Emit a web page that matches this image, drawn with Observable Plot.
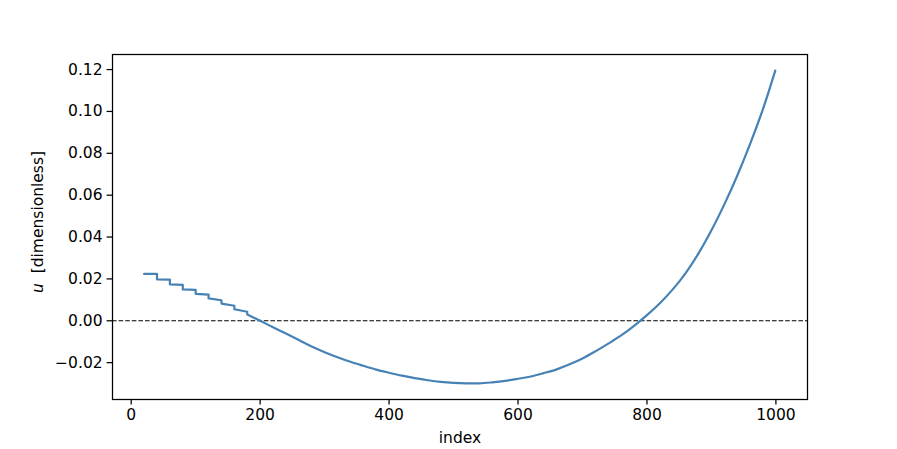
<!DOCTYPE html>
<html>
<head>
<meta charset="utf-8">
<script src="https://cdn.jsdelivr.net/npm/d3@7"></script>
<script src="https://cdn.jsdelivr.net/npm/@observablehq/plot@0.6"></script>
<style>
  html, body { margin: 0; padding: 0; background: white; }
  #chart svg { display: block; }
</style>
</head>
<body>
<div id="chart"></div>
<script>
// step part near the start (duplicated x = step edges)
const stepIndex = [20, 40, 40, 60, 60, 80, 80, 100, 100, 120, 120, 140, 140, 160, 160, 180, 180, 200];
const stepU = [
  0.0224, 0.0224, 0.0198, 0.0197, 0.0174, 0.0172, 0.0150, 0.0148, 0.0129, 0.0125,
  0.0107, 0.0098, 0.0082, 0.0072, 0.0055, 0.0043, 0.0030, 0.0000
];
// smooth part
const curveIndex = [
  200, 220, 240, 260, 280, 300, 320, 340, 360, 380, 400, 420, 440, 460, 480, 500, 520, 540,
  560, 580, 600, 620, 640, 660, 680, 700, 720, 740, 760, 780, 800, 820, 840, 860, 880,
  900, 920, 940, 960, 980, 999
];
const curveU = [
  0.0000, -0.0031, -0.0061, -0.0092, -0.0123, -0.0150, -0.0174, -0.0196, -0.0215, -0.0233,
  -0.0248, -0.0262, -0.0274, -0.0284, -0.0292, -0.0297, -0.0299, -0.0299,
  -0.0294, -0.0287, -0.0277, -0.0266, -0.0250, -0.0232, -0.0208, -0.0180, -0.0146,
  -0.0109, -0.0070, -0.0024, 0.0027, 0.0084, 0.0150, 0.0228, 0.0322,
  0.0432, 0.0556, 0.0693, 0.0845, 0.1012, 0.1195
];
const xTicks = [0, 200, 400, 600, 800, 1000];
const yTicks = [-0.02, 0.00, 0.02, 0.04, 0.06, 0.08, 0.10, 0.12];
const xLabel = "index";
const yLabelVar = "u";
const yLabelRest = "  [dimensionless]";

const stepData = stepIndex.map((x, i) => ({x, y: stepU[i]}));
const curveData = curveIndex.map((x, i) => ({x, y: curveU[i]}));
const fmt = d3.format(".2f");
const FS = 15.5;

const chart = Plot.plot({
  width: 897,
  height: 449,
  marginLeft: 112,
  marginRight: 90,
  marginTop: 54,
  marginBottom: 50,
  x: {domain: [-29, 1049]},
  y: {domain: [-0.0376, 0.1272]},
  style: {fontFamily: "DejaVu Sans", fontSize: FS + "px", background: "white", color: "black"},
  marks: [
    Plot.ruleY([0], {stroke: "black", strokeWidth: 1.1, strokeDasharray: "4.6,2"}),
    Plot.line(stepData, {x: "x", y: "y", stroke: "#4682b4", strokeWidth: 2.2}),
    Plot.line(curveData, {x: "x", y: "y", stroke: "#4682b4", strokeWidth: 2.2, curve: "catmull-rom"}),
    Plot.frame({stroke: "black", strokeWidth: 1.25}),
    Plot.axisX({ticks: xTicks, tickSize: 5.4, tickPadding: 4.5, tickFormat: d => String(d), label: null, fontSize: FS, strokeWidth: 1.25}),
    Plot.axisY({ticks: yTicks, tickSize: 5.4, tickPadding: 4.5, tickFormat: d => fmt(d), label: null, fontSize: FS, strokeWidth: 1.25}),
    Plot.text([xLabel], {frameAnchor: "bottom", dy: 39, text: d => d, fontSize: FS, lineAnchor: "middle"})
  ]
});

const svg = d3.select(chart);
const t = svg.append("text")
  .attr("transform", "translate(38,222) rotate(-90)")
  .attr("text-anchor", "middle")
  .attr("dominant-baseline", "middle")
  .attr("font-family", "DejaVu Sans")
  .attr("font-size", FS + "px")
  .style("white-space", "pre")
  .attr("fill", "black");
t.append("tspan").attr("font-style", "italic").text(yLabelVar);
t.append("tspan").text(yLabelRest);

document.getElementById("chart").appendChild(chart);
</script>
</body>
</html>
